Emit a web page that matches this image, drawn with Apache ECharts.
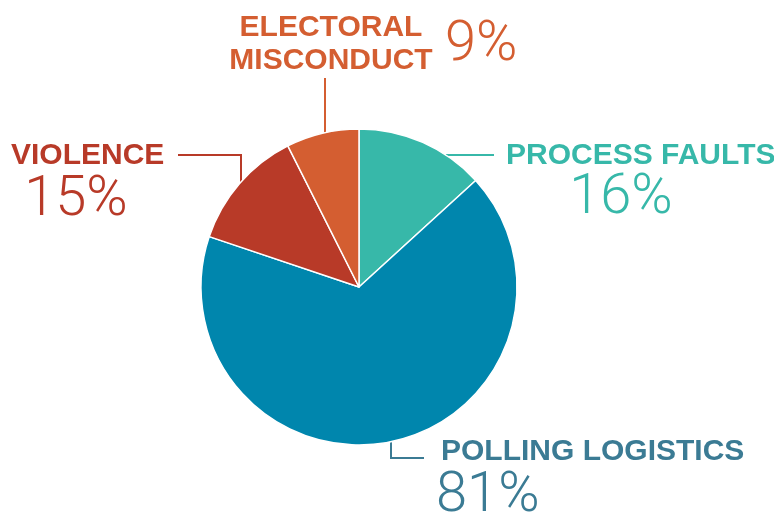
<!DOCTYPE html>
<html><head><meta charset="utf-8">
<script src="https://cdn.jsdelivr.net/npm/echarts@6/dist/echarts.min.js"></script>
<style>html,body{margin:0;padding:0;background:#fff}#c{width:774px;height:516px}</style>
</head><body><div id="c"></div>
<script>
// ---- data ----
const categories = ['PROCESS FAULTS', 'POLLING LOGISTICS', 'VIOLENCE', 'ELECTORAL\nMISCONDUCT'];
const values = [16, 81, 15, 9];
const sliceColors = ['#37b8a9', '#0086ad', '#b83a28', '#d45e31'];
const textColors = ['#37b8a9', '#3b7b94', '#b83a28', '#d45e31'];

// ---- layout / styling ----
const CX = 359, CY = 287, R = 158;
const nameFont = 'Liberation Sans';
const pctFont = 'Roboto';
const nameLayout = [
  {x: 506, y: 156, align: 'left', verticalAlign: 'middle'},
  {x: 441, y: 452, align: 'left', verticalAlign: 'middle'},
  {x: 11, y: 156, align: 'left', verticalAlign: 'middle'},
  {x: 331, y: 44, align: 'center', verticalAlign: 'middle'}
];
const pctLayout = [
  {x: 621, y: 199, align: 'center', verticalAlign: 'middle'},
  {x: 436, y: 497, align: 'left', verticalAlign: 'middle'},
  {x: 76, y: 201, align: 'center', verticalAlign: 'middle'},
  {x: 445, y: 46, align: 'left', verticalAlign: 'middle'}
];
// leader lines: start on pie edge along a horizontal or vertical ray, then elbow points
function edgeAtY(y, side) { return [CX + side * Math.sqrt(R * R - (CY - y) * (CY - y)), y]; }
function edgeAtX(x, side) { return [x, CY + side * Math.sqrt(R * R - (CX - x) * (CX - x))]; }
const leaderLines = [
  [edgeAtY(155, 1), [494, 155]],
  [edgeAtX(391, 1), [391, 458], [424, 458]],
  [edgeAtX(241, -1), [241, 155], [178, 155]],
  [edgeAtX(325, -1), [325, 78]]
];

const pieData = categories.map((n, i) => ({
  name: n, value: values[i],
  itemStyle: {color: sliceColors[i]},
  label: {color: textColors[i]},
  labelLine: {lineStyle: {color: textColors[i]}}
}));
const pctData = categories.map((n, i) => ({
  name: n, value: values[i],
  label: {color: textColors[i]}
}));

const chart = echarts.init(document.getElementById('c'), null, {renderer: 'canvas'});
chart.setOption({
  animation: false,
  series: [
    {
      type: 'pie', center: [CX, CY], radius: R, startAngle: 90, clockwise: true,
      avoidLabelOverlap: false, silent: true,
      emphasis: {disabled: true},
      itemStyle: {borderColor: '#fff', borderWidth: 1.5},
      label: {
        show: true, position: 'outside', formatter: p => p.name,
        fontFamily: nameFont, fontWeight: 'bold', fontSize: 30, lineHeight: 33
      },
      labelLine: {show: true, smooth: false, lineStyle: {width: 2}},
      labelLayout: p => Object.assign({}, nameLayout[p.dataIndex], {labelLinePoints: leaderLines[p.dataIndex]}),
      data: pieData
    },
    {
      type: 'pie', center: [CX, CY], radius: R, startAngle: 90, clockwise: true,
      avoidLabelOverlap: false, silent: true,
      emphasis: {disabled: true},
      itemStyle: {color: 'rgba(0,0,0,0)', borderWidth: 0},
      label: {
        show: true, position: 'outside', formatter: p => p.value + '%',
        fontFamily: pctFont, fontWeight: 300, fontSize: 56
      },
      labelLine: {show: false},
      labelLayout: p => pctLayout[p.dataIndex],
      data: pctData
    }
  ]
});
</script>
</body></html>
